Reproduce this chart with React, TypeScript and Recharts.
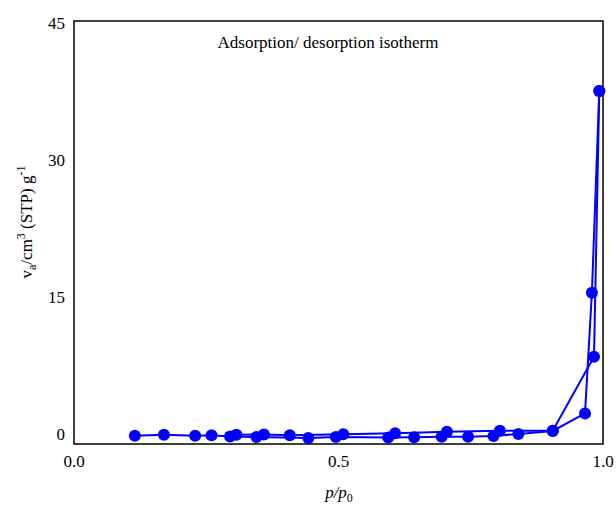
import { ScatterChart, Scatter, XAxis, YAxis, ReferenceArea, Customized } from 'recharts'

const BLUE = '#0000ff'
const FONT = '"Liberation Serif", "Times New Roman", serif'

// adsorption branch (p/p0 rising)
const adsP = [0.115, 0.170, 0.229, 0.260, 0.295, 0.345, 0.443, 0.495, 0.594, 0.643, 0.695, 0.745, 0.793, 0.840, 0.905, 0.966, 0.979, 0.993]
const adsV = [-0.19, -0.1, -0.19, -0.15, -0.27, -0.33, -0.44, -0.33, -0.4, -0.35, -0.3, -0.3, -0.22, 0.0, 0.33, 2.25, 15.45, 37.55]

// desorption branch (p/p0 falling)
const desP = [0.993, 0.983, 0.905, 0.805, 0.705, 0.607, 0.509, 0.408, 0.359, 0.307]
const desV = [37.55, 8.45, 0.36, 0.36, 0.25, 0.08, -0.03, -0.13, -0.05, -0.08]

const xTicks = [0, 0.5, 1]
const yTicks = [0, 15, 30, 45]
const title = 'Adsorption/ desorption isotherm'

const adsData = adsP.map((p, i) => ({ p, v: adsV[i] }))
const desData = desP.map((p, i) => ({ p, v: desV[i] }))

const Dot = (props: any) => <circle cx={props.cx} cy={props.cy} r={6} fill={BLUE} />

const Labels = () => (
  <g fontFamily={FONT} fill="#000">
    <text x={328} y={48} textAnchor="middle" fontSize={17}>{title}</text>
    <text x={339} y={498} textAnchor="middle" fontSize={17} fontStyle="italic">
      p/p<tspan fontSize={12} dy={4} fontStyle="normal">0</tspan>
    </text>
    <text x={32} y={222} textAnchor="middle" fontSize={17} transform="rotate(-90, 32, 222)">
      v<tspan fontSize={12} dy={4}>a</tspan>
      <tspan dy={-4}>/cm</tspan>
      <tspan fontSize={12} dy={-7}>3</tspan>
      <tspan dy={7}> (STP) g</tspan>
      <tspan fontSize={12} dy={-7}>-1</tspan>
    </text>
  </g>
)

export default function App() {
  return (
    <div style={{ position: 'absolute', left: 0, top: 0 }}>
      <ScatterChart width={616} height={508} margin={{ top: 21, right: 13, bottom: 24, left: 0 }}>
        <XAxis
          type="number"
          dataKey="p"
          domain={[0, 1]}
          ticks={xTicks}
          tickFormatter={(t: number) => t.toFixed(1)}
          height={40}
          axisLine={false}
          tickLine={false}
          tickSize={0}
          tickMargin={11}
          tick={{ fontSize: 17, fill: '#000', fontFamily: FONT }}
        />
        <YAxis
          type="number"
          dataKey="v"
          domain={[-1.1, 45.2]}
          ticks={yTicks}
          width={74}
          axisLine={false}
          tickLine={false}
          tickSize={0}
          tickMargin={9}
          tick={{ fontSize: 17, fill: '#000', fontFamily: FONT }}
        />
        <ReferenceArea x1={0} x2={1} y1={-1.1} y2={45.2} fill="none" stroke="#000" strokeWidth={1.5} ifOverflow="visible" />
        <Scatter data={adsData} line={{ stroke: BLUE, strokeWidth: 2 }} lineType="joint" shape={Dot} isAnimationActive={false} />
        <Scatter data={desData} line={{ stroke: BLUE, strokeWidth: 2 }} lineType="joint" shape={Dot} isAnimationActive={false} />
        <Customized component={Labels} />
      </ScatterChart>
    </div>
  )
}
